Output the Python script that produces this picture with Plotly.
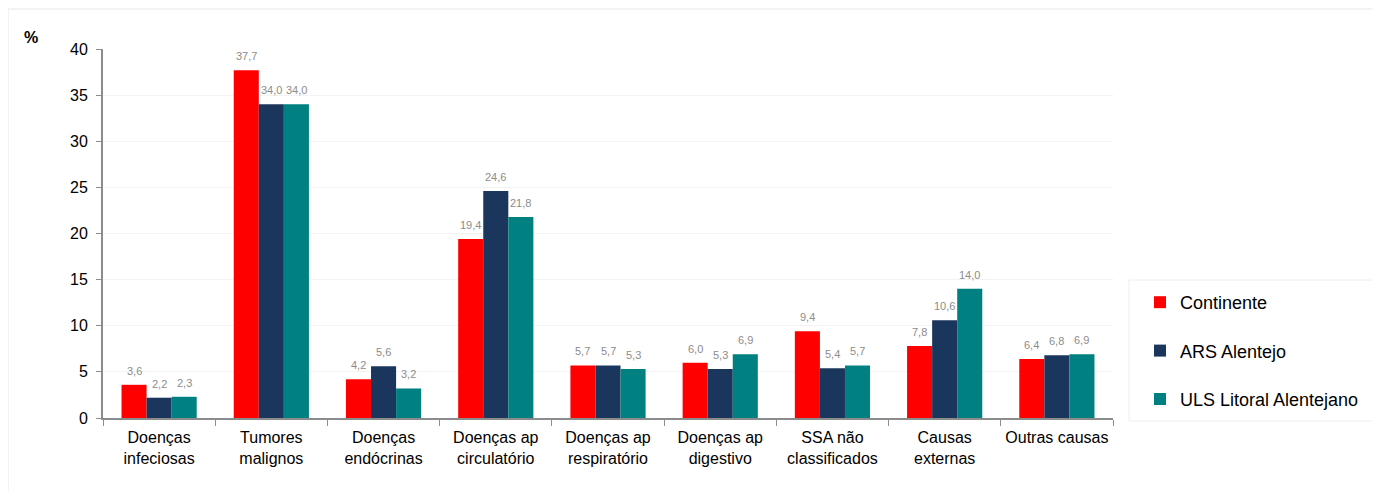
import plotly.graph_objects as go

categories = ["Doenças<br>infeciosas", "Tumores<br>malignos", "Doenças<br>endócrinas",
              "Doenças ap<br>circulatório", "Doenças ap<br>respiratório", "Doenças ap<br>digestivo",
              "SSA não<br>classificados", "Causas<br>externas", "Outras causas"]
continente = [3.6, 37.7, 4.2, 19.4, 5.7, 6.0, 9.4, 7.8, 6.4]
ars_alentejo = [2.2, 34.0, 5.6, 24.6, 5.7, 5.3, 5.4, 10.6, 6.8]
uls_litoral = [2.3, 34.0, 3.2, 21.8, 5.3, 6.9, 5.7, 14.0, 6.9]

series = [("Continente", continente, "#FF0000"),
          ("ARS Alentejo", ars_alentejo, "#1B365D"),
          ("ULS Litoral Alentejano", uls_litoral, "#008080")]

W, H = 1380, 491
OFF = 8  # page body margin
L, R, T, B = 95, 275, 41, 81
pw, ph = W - L - R, H - T - B
BARGAP = 0.33


def px_x(sx):
    return (sx - OFF - L) / pw


def px_y(sy):
    return (H - B - (sy - OFF)) / ph


fig = go.Figure()
for i, (name, vals, col) in enumerate(series):
    fig.add_trace(go.Bar(
        x=categories, y=vals, name=name, marker_color=col,
        marker_line_width=0, legendgroup=f"g{i}",
    ))

cat_px = pw / len(categories)
bw = cat_px * (1 - BARGAP) / len(series)
for i, (name, vals, col) in enumerate(series):
    for c, v in zip(categories, vals):
        fig.add_annotation(
            x=c, y=v, xref="x", yref="y", showarrow=False,
            text=f"{v:.1f}".replace(".", ","),
            xshift=(i - 1) * bw, yshift=14, yanchor="middle",
            font=dict(size=11, color="#8C8C8C"),
        )

fig.update_layout(
    width=W, height=H,
    margin=dict(l=L, r=R, t=T, b=B),
    paper_bgcolor="white", plot_bgcolor="white",
    font=dict(family="Liberation Sans, Arial, sans-serif", color="#000000"),
    barmode="group", bargap=BARGAP, bargroupgap=0,
    legend=dict(x=px_x(1140), y=px_y(284), xanchor="left", yanchor="top",
                font=dict(size=18), borderwidth=0, bgcolor="rgba(0,0,0,0)",
                tracegroupgap=22, itemwidth=30),
    showlegend=True,
)
fig.update_xaxes(
    showline=True, linecolor="#8C8C8C", linewidth=2,
    ticks="outside", tickson="boundaries", ticklen=6, tickcolor="#8C8C8C",
    tickfont=dict(size=16), showgrid=False, ticklabelstandoff=4,
)
fig.update_yaxes(
    range=[0, 40], dtick=5, showline=True, linecolor="#8C8C8C", linewidth=2,
    ticks="outside", ticklen=5, tickcolor="#8C8C8C", tickfont=dict(size=16),
    showgrid=True, gridcolor="#F3F3F3", gridwidth=1, zeroline=False,
    ticklabelstandoff=5,
)
fig.add_annotation(text="<b>%</b>", xref="paper", yref="paper",
                   x=px_x(31), y=px_y(38), showarrow=False,
                   font=dict(size=16), xanchor="center", yanchor="middle")
fig.add_shape(type="rect", xref="paper", yref="paper",
              x0=px_x(8), x1=px_x(1379.5),
              y0=px_y(498), y1=px_y(9),
              line=dict(color="#E6E6E6", width=1), layer="below")
fig.add_shape(type="rect", xref="paper", yref="paper",
              x0=px_x(1129), x1=px_x(1378),
              y0=px_y(421), y1=px_y(280),
              line=dict(color="#EEEEEE", width=1), layer="below")
fig.write_html("out.html")
